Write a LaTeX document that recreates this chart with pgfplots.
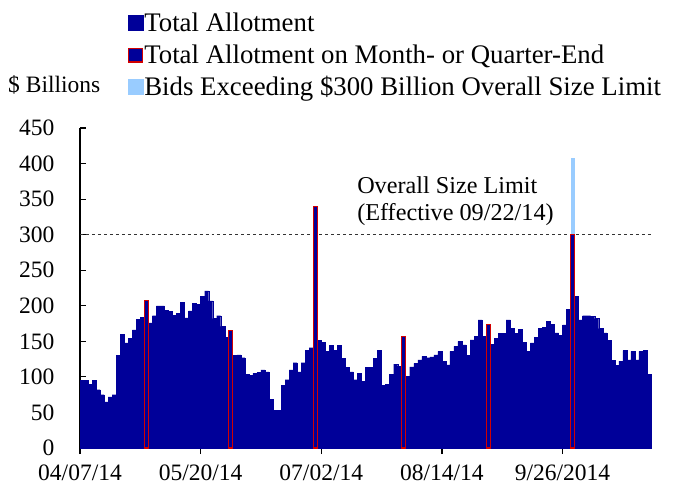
\documentclass[border=0pt]{standalone}
\usepackage{pgfplots}
\pgfplotsset{compat=1.18}
\usepackage{fontspec}
\setmainfont{Liberation Serif}
\definecolor{navy}{RGB}{0,0,153}
\definecolor{lblue}{RGB}{153,204,255}
\definecolor{mred}{RGB}{210,0,0}
\begin{document}
\begin{tikzpicture}
\begin{axis}[
  scale only axis, width=571bp, height=320bp,
  xmin=-0.5, xmax=141.5, ymin=0, ymax=450,
  axis x line*=bottom, axis y line*=left,
  axis line style={line width=1.4bp, black},
  ytick={0,50,...,450},
  xtick={-0.5,29.5,59.5,89.5,119.5},
  xticklabels={04/07/14,05/20/14,07/02/14,08/14/14,9/26/2014},
  tick align=outside,
  major tick length=6bp,
  tick style={line width=1.2bp, black},
  y tick style={xshift=6bp},
  yticklabel style={xshift=-16bp},
  xticklabel style={yshift=-7bp},
  tick label style={font=\fontsize{23.5bp}{26bp}\selectfont},
  /pgf/number format/assume math mode=true,
  bar width=1, bar shift=0pt,
  clip=false,
  legend style={at={(axis description cs:0.084,1.3656)}, anchor=north west,
    draw=none, fill=none, inner sep=0pt, outer sep=0pt,
    font=\fontsize{26.8bp}{30bp}\selectfont,
    nodes={inner sep=1bp, text height=19bp, text depth=6bp},
    row sep=5bp,
    /tikz/every even column/.append style={column sep=5bp}},
  legend cell align=left,
]
\coordinate (O) at (rel axis cs:0,0);
\addplot[sharp plot, no marks, forget plot, dashed, black!80, line width=0.8bp] coordinates {(-0.5,300) (141.5,300)};
\addplot[ybar, fill=lblue, draw=none, forget plot] coordinates {(122,408)};
\addplot[ybar, fill=navy, draw=navy, line width=0.3bp,
  legend image code/.code={\fill[navy] (0bp,-6bp) rectangle (15bp,9bp);}]
coordinates {(0,95)(1,95)(2,90)(3,95)(4,82)(5,75)(6,65)(7,72)(8,75)(9,130)(10,160)(11,148)(12,154)(13,166)(14,181)(15,184)(17,176)(18,186)(19,200)(20,200)(21,194)(22,192)(23,187)(24,189)(25,205)(26,183)(27,193)(28,203)(29,202)(30,213)(31,221)(32,207)(33,182)(34,186)(35,171)(36,156)(38,130)(39,131)(40,127)(41,104)(42,102)(43,105)(44,106)(45,110)(46,107)(47,68)(48,53)(49,53)(50,88)(51,96)(52,110)(53,120)(54,107)(55,120)(56,137)(57,141)(59,151)(60,149)(61,136)(62,144)(63,137)(64,144)(65,126)(66,113)(67,107)(68,96)(69,105)(70,94)(71,113)(72,113)(73,126)(74,137)(75,88)(76,90)(77,104)(78,118)(79,115)(81,101)(82,114)(83,119)(84,124)(85,129)(86,127)(87,128)(88,131)(89,136)(90,122)(91,117)(92,136)(93,143)(94,150)(95,145)(96,130)(97,152)(98,157)(99,180)(100,157)(102,146)(103,154)(104,161)(105,161)(106,180)(107,168)(108,161)(109,167)(110,149)(111,136)(112,148)(113,156)(114,168)(115,170)(116,178)(117,174)(118,162)(119,158)(120,173)(121,195)(123,213)(124,180)(125,186)(126,186)(127,185)(128,182)(129,168)(130,162)(131,151)(132,123)(133,116)(134,122)(135,137)(136,124)(137,136)(138,124)(139,136)(140,137)(141,104)};
\addlegendentry{Total Allotment}
\addplot[ybar, fill=navy, draw=mred, line width=1.1bp,
  legend image code/.code={\draw[mred, line width=1.2bp, fill=navy] (0.6bp,-5.4bp) rectangle (14.4bp,8.4bp);}]
coordinates {(16,207)(37,165)(58,340)(80,157)(101,174)(122,300)};
\addlegendentry{Total Allotment on Month- or Quarter-End}
\addlegendimage{legend image code/.code={\fill[lblue] (0bp,-6bp) rectangle (15bp,9bp);}}
\addlegendentry{Bids Exceeding \$300 Billion Overall Size Limit}
\node[anchor=base west, font=\fontsize{24.2bp}{28bp}\selectfont, inner sep=0pt] at (axis cs:68.4,358) {Overall Size Limit};
\node[anchor=base west, font=\fontsize{24.2bp}{28bp}\selectfont, inner sep=0pt] at (axis cs:68.4,320) {(Effective 09/22/14)};
\node[anchor=west, font=\fontsize{23.5bp}{26bp}\selectfont, inner sep=0pt] at (axis description cs:-0.126,1.134) {\$ Billions};
\end{axis}
\pgfresetboundingbox
\path (O) ++(-80bp,-45bp) rectangle ++(674bp,493bp);
\end{tikzpicture}
\end{document}
